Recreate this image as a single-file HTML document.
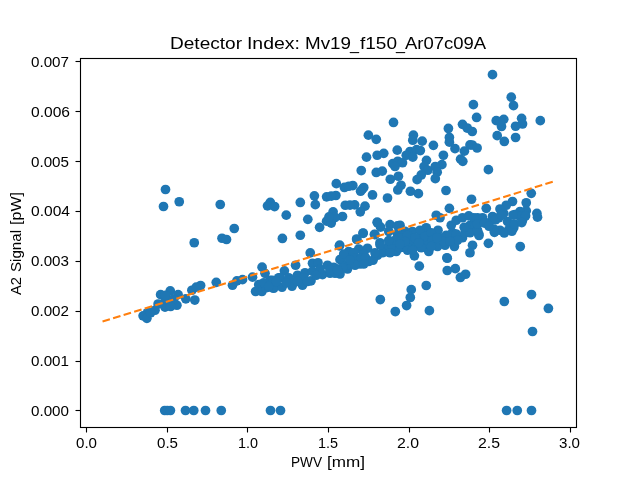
<!DOCTYPE html>
<html lang="en">
<head>
<meta charset="utf-8">
<title>Detector Index: Mv19_f150_Ar07c09A</title>
<style>
html,body{margin:0;padding:0;background:#ffffff;}
body{width:640px;height:480px;overflow:hidden;font-family:"Liberation Sans",sans-serif;}
svg{display:block;}
svg text{font-family:"Liberation Sans",sans-serif;fill:#000000;}
.txt{will-change:transform;}
.tick,.lab{font-size:14.2px;}
.title{font-size:17px;}
</style>
</head>
<body>
<svg width="640" height="480" viewBox="0 0 640 480">
<rect x="0" y="0" width="640" height="480" fill="#ffffff"/>
<!-- scatter markers -->
<g fill="#1f77b4" stroke="none"><circle cx="165.50" cy="189.50" r="4.86"/><circle cx="163.50" cy="206.50" r="4.86"/><circle cx="179.25" cy="201.75" r="4.86"/><circle cx="220.25" cy="204.50" r="4.86"/><circle cx="234.25" cy="228.50" r="4.86"/><circle cx="222.00" cy="238.25" r="4.86"/><circle cx="226.50" cy="239.50" r="4.86"/><circle cx="194.25" cy="242.75" r="4.86"/><circle cx="270.30" cy="202.45" r="4.86"/><circle cx="267.50" cy="205.85" r="4.86"/><circle cx="274.60" cy="206.55" r="4.86"/><circle cx="200.60" cy="285.50" r="4.86"/><circle cx="191.90" cy="290.25" r="4.86"/><circle cx="194.80" cy="300.05" r="4.86"/><circle cx="185.80" cy="298.85" r="4.86"/><circle cx="170.25" cy="290.85" r="4.86"/><circle cx="160.60" cy="294.65" r="4.86"/><circle cx="178.10" cy="294.65" r="4.86"/><circle cx="176.90" cy="305.25" r="4.86"/><circle cx="165.00" cy="307.15" r="4.86"/><circle cx="158.10" cy="304.00" r="4.86"/><circle cx="155.00" cy="310.25" r="4.86"/><circle cx="147.50" cy="312.75" r="4.86"/><circle cx="143.10" cy="315.85" r="4.86"/><circle cx="146.90" cy="318.35" r="4.86"/><circle cx="171.00" cy="300.25" r="4.86"/><circle cx="150.60" cy="312.75" r="4.86"/><circle cx="216.25" cy="282.35" r="4.86"/><circle cx="232.50" cy="285.25" r="4.86"/><circle cx="236.90" cy="280.85" r="4.86"/><circle cx="242.50" cy="279.65" r="4.86"/><circle cx="252.50" cy="277.15" r="4.86"/><circle cx="262.10" cy="267.15" r="4.86"/><circle cx="265.00" cy="273.35" r="4.86"/><circle cx="258.75" cy="284.65" r="4.86"/><circle cx="255.60" cy="291.50" r="4.86"/><circle cx="261.90" cy="291.50" r="4.86"/><circle cx="270.00" cy="280.25" r="4.86"/><circle cx="275.00" cy="281.25" r="4.86"/><circle cx="272.50" cy="287.75" r="4.86"/><circle cx="266.00" cy="287.75" r="4.86"/><circle cx="278.75" cy="277.75" r="4.86"/><circle cx="284.40" cy="270.85" r="4.86"/><circle cx="295.60" cy="265.25" r="4.86"/><circle cx="310.25" cy="252.85" r="4.86"/><circle cx="312.50" cy="263.25" r="4.86"/><circle cx="318.00" cy="262.75" r="4.86"/><circle cx="327.50" cy="265.25" r="4.86"/><circle cx="340.00" cy="259.65" r="4.86"/><circle cx="339.70" cy="245.15" r="4.86"/><circle cx="273.75" cy="288.25" r="4.86"/><circle cx="282.00" cy="287.25" r="4.86"/><circle cx="292.00" cy="286.25" r="4.86"/><circle cx="302.50" cy="285.25" r="4.86"/><circle cx="311.00" cy="280.85" r="4.86"/><circle cx="322.50" cy="274.65" r="4.86"/><circle cx="330.00" cy="273.25" r="4.86"/><circle cx="337.50" cy="272.75" r="4.86"/><circle cx="272.50" cy="280.25" r="4.86"/><circle cx="280.00" cy="277.75" r="4.86"/><circle cx="288.75" cy="277.75" r="4.86"/><circle cx="297.50" cy="275.25" r="4.86"/><circle cx="305.00" cy="272.75" r="4.86"/><circle cx="312.50" cy="271.25" r="4.86"/><circle cx="320.00" cy="269.00" r="4.86"/><circle cx="333.75" cy="267.25" r="4.86"/><circle cx="263.75" cy="282.75" r="4.86"/><circle cx="268.75" cy="286.25" r="4.86"/><circle cx="339.40" cy="245.85" r="4.86"/><circle cx="356.90" cy="239.65" r="4.86"/><circle cx="363.10" cy="233.35" r="4.86"/><circle cx="375.00" cy="234.65" r="4.86"/><circle cx="377.50" cy="222.75" r="4.86"/><circle cx="380.60" cy="227.15" r="4.86"/><circle cx="380.00" cy="242.75" r="4.86"/><circle cx="390.00" cy="224.65" r="4.86"/><circle cx="397.50" cy="225.85" r="4.86"/><circle cx="388.75" cy="231.50" r="4.86"/><circle cx="405.00" cy="231.25" r="4.86"/><circle cx="397.50" cy="234.00" r="4.86"/><circle cx="407.50" cy="237.75" r="4.86"/><circle cx="348.75" cy="251.50" r="4.86"/><circle cx="358.75" cy="249.00" r="4.86"/><circle cx="367.50" cy="248.25" r="4.86"/><circle cx="341.25" cy="259.00" r="4.86"/><circle cx="351.25" cy="259.00" r="4.86"/><circle cx="360.00" cy="264.00" r="4.86"/><circle cx="368.75" cy="261.50" r="4.86"/><circle cx="377.50" cy="255.25" r="4.86"/><circle cx="386.25" cy="251.50" r="4.86"/><circle cx="388.75" cy="246.50" r="4.86"/><circle cx="396.25" cy="251.50" r="4.86"/><circle cx="400.00" cy="242.75" r="4.86"/><circle cx="405.00" cy="240.25" r="4.86"/><circle cx="347.50" cy="269.00" r="4.86"/><circle cx="337.50" cy="269.00" r="4.86"/><circle cx="332.50" cy="267.75" r="4.86"/><circle cx="340.00" cy="274.00" r="4.86"/><circle cx="363.75" cy="254.00" r="4.86"/><circle cx="449.40" cy="208.35" r="4.86"/><circle cx="436.25" cy="215.25" r="4.86"/><circle cx="440.00" cy="217.75" r="4.86"/><circle cx="426.25" cy="227.75" r="4.86"/><circle cx="412.50" cy="231.50" r="4.86"/><circle cx="400.00" cy="225.25" r="4.86"/><circle cx="438.00" cy="230.25" r="4.86"/><circle cx="451.25" cy="225.25" r="4.86"/><circle cx="456.25" cy="220.25" r="4.86"/><circle cx="462.50" cy="217.75" r="4.86"/><circle cx="468.75" cy="215.85" r="4.86"/><circle cx="477.50" cy="217.75" r="4.86"/><circle cx="470.00" cy="225.25" r="4.86"/><circle cx="475.00" cy="230.25" r="4.86"/><circle cx="462.50" cy="237.75" r="4.86"/><circle cx="452.50" cy="232.75" r="4.86"/><circle cx="446.25" cy="235.25" r="4.86"/><circle cx="454.40" cy="246.50" r="4.86"/><circle cx="445.00" cy="245.25" r="4.86"/><circle cx="437.50" cy="246.50" r="4.86"/><circle cx="428.75" cy="251.50" r="4.86"/><circle cx="414.40" cy="255.85" r="4.86"/><circle cx="446.90" cy="257.75" r="4.86"/><circle cx="472.50" cy="245.25" r="4.86"/><circle cx="470.00" cy="252.75" r="4.86"/><circle cx="420.00" cy="237.75" r="4.86"/><circle cx="407.50" cy="240.25" r="4.86"/><circle cx="430.00" cy="237.75" r="4.86"/><circle cx="400.00" cy="237.75" r="4.86"/><circle cx="403.75" cy="246.50" r="4.86"/><circle cx="415.00" cy="246.50" r="4.86"/><circle cx="425.00" cy="244.00" r="4.86"/><circle cx="420.00" cy="230.25" r="4.86"/><circle cx="531.25" cy="193.35" r="4.86"/><circle cx="526.25" cy="202.75" r="4.86"/><circle cx="536.90" cy="213.35" r="4.86"/><circle cx="537.50" cy="217.15" r="4.86"/><circle cx="512.50" cy="201.50" r="4.86"/><circle cx="506.25" cy="205.25" r="4.86"/><circle cx="500.00" cy="209.00" r="4.86"/><circle cx="486.25" cy="208.35" r="4.86"/><circle cx="526.25" cy="210.85" r="4.86"/><circle cx="520.00" cy="211.50" r="4.86"/><circle cx="515.00" cy="214.65" r="4.86"/><circle cx="522.50" cy="220.25" r="4.86"/><circle cx="513.75" cy="227.75" r="4.86"/><circle cx="508.75" cy="229.65" r="4.86"/><circle cx="500.00" cy="230.25" r="4.86"/><circle cx="493.75" cy="229.00" r="4.86"/><circle cx="482.50" cy="217.75" r="4.86"/><circle cx="473.75" cy="217.75" r="4.86"/><circle cx="478.75" cy="234.00" r="4.86"/><circle cx="488.75" cy="222.75" r="4.86"/><circle cx="498.75" cy="217.75" r="4.86"/><circle cx="507.50" cy="221.50" r="4.86"/><circle cx="470.00" cy="226.25" r="4.86"/><circle cx="475.00" cy="226.25" r="4.86"/><circle cx="286.25" cy="215.15" r="4.86"/><circle cx="300.30" cy="202.45" r="4.86"/><circle cx="314.40" cy="195.85" r="4.86"/><circle cx="315.30" cy="204.65" r="4.86"/><circle cx="307.80" cy="219.35" r="4.86"/><circle cx="282.40" cy="238.45" r="4.86"/><circle cx="300.30" cy="235.25" r="4.86"/><circle cx="319.60" cy="227.35" r="4.86"/><circle cx="326.60" cy="196.85" r="4.86"/><circle cx="335.90" cy="195.50" r="4.86"/><circle cx="336.30" cy="183.65" r="4.86"/><circle cx="344.40" cy="187.45" r="4.86"/><circle cx="352.80" cy="185.55" r="4.86"/><circle cx="362.20" cy="189.35" r="4.86"/><circle cx="361.25" cy="170.55" r="4.86"/><circle cx="376.25" cy="172.45" r="4.86"/><circle cx="372.50" cy="194.95" r="4.86"/><circle cx="345.30" cy="205.25" r="4.86"/><circle cx="354.70" cy="204.85" r="4.86"/><circle cx="365.00" cy="206.15" r="4.86"/><circle cx="360.30" cy="211.85" r="4.86"/><circle cx="333.10" cy="211.85" r="4.86"/><circle cx="342.50" cy="216.50" r="4.86"/><circle cx="326.60" cy="221.15" r="4.86"/><circle cx="331.25" cy="223.05" r="4.86"/><circle cx="335.00" cy="217.45" r="4.86"/><circle cx="377.20" cy="222.15" r="4.86"/><circle cx="363.10" cy="233.00" r="4.86"/><circle cx="356.60" cy="239.00" r="4.86"/><circle cx="374.40" cy="234.35" r="4.86"/><circle cx="393.50" cy="122.45" r="4.86"/><circle cx="368.40" cy="135.15" r="4.86"/><circle cx="376.25" cy="139.35" r="4.86"/><circle cx="366.50" cy="157.15" r="4.86"/><circle cx="377.20" cy="155.25" r="4.86"/><circle cx="383.75" cy="153.35" r="4.86"/><circle cx="382.25" cy="171.15" r="4.86"/><circle cx="387.50" cy="198.00" r="4.86"/><circle cx="397.25" cy="150.15" r="4.86"/><circle cx="392.75" cy="163.65" r="4.86"/><circle cx="397.80" cy="161.25" r="4.86"/><circle cx="402.50" cy="162.75" r="4.86"/><circle cx="395.00" cy="166.50" r="4.86"/><circle cx="390.30" cy="179.25" r="4.86"/><circle cx="398.40" cy="176.25" r="4.86"/><circle cx="401.00" cy="185.25" r="4.86"/><circle cx="397.80" cy="189.95" r="4.86"/><circle cx="410.40" cy="191.25" r="4.86"/><circle cx="418.40" cy="193.65" r="4.86"/><circle cx="413.40" cy="135.15" r="4.86"/><circle cx="412.80" cy="140.25" r="4.86"/><circle cx="422.20" cy="141.15" r="4.86"/><circle cx="433.40" cy="145.35" r="4.86"/><circle cx="410.00" cy="151.50" r="4.86"/><circle cx="416.60" cy="149.65" r="4.86"/><circle cx="420.30" cy="150.55" r="4.86"/><circle cx="406.25" cy="155.25" r="4.86"/><circle cx="412.80" cy="157.15" r="4.86"/><circle cx="426.50" cy="160.35" r="4.86"/><circle cx="424.10" cy="166.50" r="4.86"/><circle cx="427.80" cy="170.25" r="4.86"/><circle cx="421.25" cy="174.95" r="4.86"/><circle cx="417.10" cy="179.65" r="4.86"/><circle cx="443.40" cy="155.25" r="4.86"/><circle cx="441.90" cy="164.65" r="4.86"/><circle cx="435.30" cy="166.50" r="4.86"/><circle cx="437.20" cy="172.15" r="4.86"/><circle cx="435.30" cy="178.65" r="4.86"/><circle cx="446.00" cy="190.50" r="4.86"/><circle cx="448.40" cy="128.45" r="4.86"/><circle cx="449.40" cy="137.45" r="4.86"/><circle cx="449.40" cy="142.15" r="4.86"/><circle cx="455.00" cy="148.65" r="4.86"/><circle cx="462.50" cy="124.35" r="4.86"/><circle cx="467.20" cy="128.05" r="4.86"/><circle cx="464.40" cy="151.15" r="4.86"/><circle cx="460.60" cy="159.15" r="4.86"/><circle cx="462.80" cy="161.35" r="4.86"/><circle cx="470.00" cy="144.95" r="4.86"/><circle cx="492.50" cy="74.65" r="4.86"/><circle cx="511.25" cy="97.15" r="4.86"/><circle cx="513.50" cy="105.65" r="4.86"/><circle cx="473.40" cy="104.65" r="4.86"/><circle cx="476.60" cy="117.45" r="4.86"/><circle cx="540.30" cy="120.65" r="4.86"/><circle cx="521.60" cy="118.35" r="4.86"/><circle cx="522.50" cy="124.00" r="4.86"/><circle cx="515.60" cy="126.25" r="4.86"/><circle cx="515.60" cy="137.50" r="4.86"/><circle cx="504.30" cy="141.45" r="4.86"/><circle cx="497.20" cy="135.65" r="4.86"/><circle cx="496.25" cy="120.65" r="4.86"/><circle cx="503.75" cy="119.35" r="4.86"/><circle cx="501.50" cy="126.45" r="4.86"/><circle cx="500.00" cy="121.55" r="4.86"/><circle cx="472.25" cy="131.50" r="4.86"/><circle cx="472.25" cy="145.00" r="4.86"/><circle cx="477.10" cy="148.00" r="4.86"/><circle cx="488.40" cy="169.65" r="4.86"/><circle cx="471.50" cy="199.25" r="4.86"/><circle cx="380.30" cy="299.55" r="4.86"/><circle cx="395.30" cy="311.55" r="4.86"/><circle cx="406.60" cy="305.55" r="4.86"/><circle cx="410.30" cy="297.50" r="4.86"/><circle cx="411.25" cy="289.65" r="4.86"/><circle cx="426.25" cy="285.50" r="4.86"/><circle cx="429.40" cy="310.65" r="4.86"/><circle cx="419.30" cy="266.15" r="4.86"/><circle cx="447.25" cy="258.25" r="4.86"/><circle cx="447.25" cy="270.50" r="4.86"/><circle cx="455.30" cy="268.65" r="4.86"/><circle cx="460.40" cy="277.45" r="4.86"/><circle cx="465.60" cy="274.25" r="4.86"/><circle cx="520.25" cy="246.55" r="4.86"/><circle cx="488.40" cy="243.35" r="4.86"/><circle cx="479.00" cy="235.50" r="4.86"/><circle cx="504.30" cy="301.50" r="4.86"/><circle cx="531.50" cy="294.55" r="4.86"/><circle cx="548.40" cy="308.45" r="4.86"/><circle cx="532.50" cy="331.50" r="4.86"/><circle cx="164.70" cy="410.50" r="4.86"/><circle cx="167.30" cy="410.50" r="4.86"/><circle cx="170.40" cy="410.50" r="4.86"/><circle cx="185.50" cy="410.50" r="4.86"/><circle cx="193.75" cy="410.50" r="4.86"/><circle cx="205.50" cy="410.50" r="4.86"/><circle cx="221.25" cy="410.50" r="4.86"/><circle cx="270.50" cy="410.50" r="4.86"/><circle cx="280.50" cy="410.50" r="4.86"/><circle cx="506.60" cy="410.50" r="4.86"/><circle cx="517.25" cy="410.50" r="4.86"/><circle cx="531.50" cy="410.50" r="4.86"/><circle cx="165.60" cy="299.65" r="4.86"/><circle cx="290.00" cy="280.25" r="4.86"/><circle cx="303.75" cy="277.75" r="4.86"/><circle cx="286.25" cy="282.75" r="4.86"/><circle cx="335.00" cy="273.25" r="4.86"/><circle cx="297.50" cy="281.50" r="4.86"/><circle cx="276.25" cy="281.50" r="4.86"/><circle cx="307.50" cy="281.50" r="4.86"/><circle cx="316.25" cy="275.25" r="4.86"/><circle cx="330.00" cy="270.25" r="4.86"/><circle cx="343.75" cy="254.00" r="4.86"/><circle cx="353.75" cy="252.75" r="4.86"/><circle cx="346.25" cy="265.25" r="4.86"/><circle cx="355.00" cy="257.75" r="4.86"/><circle cx="361.25" cy="257.75" r="4.86"/><circle cx="365.50" cy="257.75" r="4.86"/><circle cx="373.00" cy="260.25" r="4.86"/><circle cx="342.50" cy="267.75" r="4.86"/><circle cx="385.00" cy="249.00" r="4.86"/><circle cx="392.50" cy="246.50" r="4.86"/><circle cx="382.50" cy="252.75" r="4.86"/><circle cx="390.00" cy="252.75" r="4.86"/><circle cx="400.00" cy="247.75" r="4.86"/><circle cx="405.00" cy="245.25" r="4.86"/><circle cx="405.00" cy="235.25" r="4.86"/><circle cx="400.00" cy="237.75" r="4.86"/><circle cx="395.00" cy="240.25" r="4.86"/><circle cx="410.00" cy="240.25" r="4.86"/><circle cx="407.50" cy="247.75" r="4.86"/><circle cx="355.00" cy="265.25" r="4.86"/><circle cx="363.75" cy="264.00" r="4.86"/><circle cx="337.50" cy="270.25" r="4.86"/><circle cx="350.00" cy="260.25" r="4.86"/><circle cx="407.50" cy="235.25" r="4.86"/><circle cx="415.00" cy="237.75" r="4.86"/><circle cx="425.00" cy="236.50" r="4.86"/><circle cx="431.25" cy="232.75" r="4.86"/><circle cx="432.50" cy="240.25" r="4.86"/><circle cx="442.50" cy="237.75" r="4.86"/><circle cx="443.75" cy="241.50" r="4.86"/><circle cx="450.00" cy="235.25" r="4.86"/><circle cx="456.25" cy="234.00" r="4.86"/><circle cx="457.50" cy="240.25" r="4.86"/><circle cx="407.50" cy="250.25" r="4.86"/><circle cx="421.25" cy="247.75" r="4.86"/><circle cx="431.25" cy="246.50" r="4.86"/><circle cx="450.00" cy="241.50" r="4.86"/><circle cx="465.00" cy="232.75" r="4.86"/><circle cx="470.00" cy="232.75" r="4.86"/><circle cx="477.50" cy="230.25" r="4.86"/><circle cx="477.50" cy="224.00" r="4.86"/><circle cx="405.00" cy="241.50" r="4.86"/><circle cx="418.75" cy="242.75" r="4.86"/><circle cx="412.50" cy="250.25" r="4.86"/><circle cx="400.00" cy="244.00" r="4.86"/><circle cx="492.50" cy="216.50" r="4.86"/><circle cx="503.75" cy="213.35" r="4.86"/><circle cx="196.25" cy="287.15" r="4.86"/><circle cx="165.40" cy="295.25" r="4.86"/><circle cx="173.75" cy="299.00" r="4.86"/><circle cx="170.60" cy="306.50" r="4.86"/><circle cx="380.00" cy="244.85" r="4.86"/><circle cx="375.00" cy="252.75" r="4.86"/><circle cx="388.75" cy="240.55" r="4.86"/><circle cx="464.20" cy="227.25" r="4.86"/><circle cx="436.90" cy="237.75" r="4.86"/><circle cx="520.00" cy="216.50" r="4.86"/><circle cx="525.60" cy="215.85" r="4.86"/><circle cx="496.90" cy="218.35" r="4.86"/><circle cx="348.75" cy="186.25" r="4.86"/><circle cx="363.75" cy="187.55" r="4.86"/><circle cx="360.60" cy="191.25" r="4.86"/><circle cx="331.25" cy="196.05" r="4.86"/><circle cx="350.00" cy="205.05" r="4.86"/><circle cx="329.00" cy="216.95" r="4.86"/><circle cx="494.40" cy="232.35" r="4.86"/><circle cx="504.25" cy="232.95" r="4.86"/><circle cx="511.90" cy="231.25" r="4.86"/><circle cx="514.60" cy="224.15" r="4.86"/><circle cx="521.75" cy="222.55" r="4.86"/><circle cx="513.10" cy="215.05" r="4.86"/><circle cx="495.50" cy="219.75" r="4.86"/><circle cx="501.50" cy="214.85" r="4.86"/><circle cx="484.50" cy="223.05" r="4.86"/><circle cx="489.00" cy="226.25" r="4.86"/></g>
<!-- fit line -->
<line x1="102.54" y1="321.55" x2="553.4" y2="181.6" stroke="#ff7f0e" stroke-width="2.08" stroke-dasharray="7.71 3.33" fill="none"/>
<!-- axes frame and ticks -->
<rect x="80.5" y="58.5" width="496" height="369" fill="none" stroke="#000000" stroke-width="1.11"/>
<g stroke="#000000" stroke-width="1.11"><line x1="86.5" y1="427.5" x2="86.5" y2="432.5"/><line x1="167.5" y1="427.5" x2="167.5" y2="432.5"/><line x1="247.5" y1="427.5" x2="247.5" y2="432.5"/><line x1="328.5" y1="427.5" x2="328.5" y2="432.5"/><line x1="409.5" y1="427.5" x2="409.5" y2="432.5"/><line x1="489.5" y1="427.5" x2="489.5" y2="432.5"/><line x1="570.5" y1="427.5" x2="570.5" y2="432.5"/><line x1="75.5" y1="410.5" x2="80.5" y2="410.5"/><line x1="75.5" y1="361.5" x2="80.5" y2="361.5"/><line x1="75.5" y1="311.5" x2="80.5" y2="311.5"/><line x1="75.5" y1="261.5" x2="80.5" y2="261.5"/><line x1="75.5" y1="211.5" x2="80.5" y2="211.5"/><line x1="75.5" y1="161.5" x2="80.5" y2="161.5"/><line x1="75.5" y1="111.5" x2="80.5" y2="111.5"/><line x1="75.5" y1="61.5" x2="80.5" y2="61.5"/></g>
<g class="txt">
<g class="tick"><text x="76.0" y="447.6" textLength="21.0" lengthAdjust="spacingAndGlyphs">0.0</text><text x="157.0" y="447.6" textLength="21.0" lengthAdjust="spacingAndGlyphs">0.5</text><text x="238.0" y="447.6" textLength="20.0" lengthAdjust="spacingAndGlyphs">1.0</text><text x="318.0" y="447.6" textLength="20.0" lengthAdjust="spacingAndGlyphs">1.5</text><text x="397.0" y="447.6" textLength="22.0" lengthAdjust="spacingAndGlyphs">2.0</text><text x="478.0" y="447.6" textLength="22.0" lengthAdjust="spacingAndGlyphs">2.5</text><text x="559.0" y="447.6" textLength="21.0" lengthAdjust="spacingAndGlyphs">3.0</text></g>
<g class="tick"><text x="31.0" y="415.6" textLength="38.0" lengthAdjust="spacingAndGlyphs">0.000</text><text x="31.0" y="365.6" textLength="38.0" lengthAdjust="spacingAndGlyphs">0.001</text><text x="31.0" y="315.6" textLength="38.0" lengthAdjust="spacingAndGlyphs">0.002</text><text x="31.0" y="265.6" textLength="38.0" lengthAdjust="spacingAndGlyphs">0.003</text><text x="31.0" y="215.6" textLength="39.0" lengthAdjust="spacingAndGlyphs">0.004</text><text x="31.0" y="166.6" textLength="38.0" lengthAdjust="spacingAndGlyphs">0.005</text><text x="31.0" y="116.6" textLength="39.0" lengthAdjust="spacingAndGlyphs">0.006</text><text x="31.0" y="66.6" textLength="38.0" lengthAdjust="spacingAndGlyphs">0.007</text></g>
<g class="title"><text x="170.0" y="49.0" textLength="72.0" lengthAdjust="spacingAndGlyphs">Detector</text><text x="246.92" y="49.0" textLength="53.0" lengthAdjust="spacingAndGlyphs">Index:</text><text x="305.0" y="49.0" textLength="46.0" lengthAdjust="spacingAndGlyphs">Mv19</text><text x="350.0" y="50.3" textLength="9.02" lengthAdjust="spacingAndGlyphs">_</text><text x="360.0" y="49.0" textLength="37.05" lengthAdjust="spacingAndGlyphs">f150</text><text x="396.0" y="50.3" textLength="9.02" lengthAdjust="spacingAndGlyphs">_</text><text x="405.0" y="49.0" textLength="81.18" lengthAdjust="spacingAndGlyphs">Ar07c09A</text></g>
<g class="lab"><text x="291.03" y="467.3" textLength="31.04" lengthAdjust="spacingAndGlyphs">PWV</text><text x="327.0" y="467.3" textLength="38.0" lengthAdjust="spacingAndGlyphs">[mm]</text></g>
<g class="lab" transform="translate(21.3,401) rotate(-90)"><text x="106.0" y="0" textLength="17.99" lengthAdjust="spacingAndGlyphs">A2</text><text x="129.0" y="0" textLength="42.0" lengthAdjust="spacingAndGlyphs">Signal</text><text x="176.0" y="0" textLength="33.0" lengthAdjust="spacingAndGlyphs">[pW]</text></g>
</g>
</svg>
</body>
</html>
